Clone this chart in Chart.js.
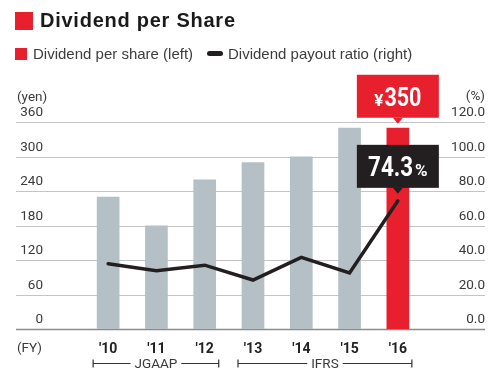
<!DOCTYPE html>
<html>
<head>
<meta charset="utf-8">
<script src="https://cdn.jsdelivr.net/npm/chart.js@4"></script>
<style>
  body { margin: 0; background: #fff; }
  #wrap { position: relative; width: 500px; height: 375px; overflow: hidden; font-family: "Liberation Sans", Arial, sans-serif; }
  #chart { position: absolute; left: 0; top: 0; }
  .sq { position: absolute; background: #e8202e; }
  .title { position: absolute; left: 40px; top: 9px; font-size: 20px; font-weight: bold; color: #1a1a1a; letter-spacing: 0.75px; line-height: 22px; }
  .leg { position: absolute; top: 45px; font-size: 15px; color: #3c3c3c; line-height: 17px; }
  .legline { position: absolute; left: 207px; top: 51px; width: 16px; height: 5px; border-radius: 3px; background: #231f20; }
</style>
</head>
<body>
<div id="wrap">
  <canvas id="chart" width="500" height="375"></canvas>
  <div class="sq" style="left:15px;top:12px;width:18px;height:18px;"></div>
  <div class="title">Dividend per Share</div>
  <div class="sq" style="left:15px;top:48px;width:12px;height:12px;"></div>
  <div class="leg" style="left:33px;">Dividend per share (left)</div>
  <div class="legline"></div>
  <div class="leg" style="left:228px;">Dividend payout ratio (right)</div>
</div>
<script>
const years = ["'10", "'11", "'12", "'13", "'14", "'15", "'16"];
const dividendPerShare = [230, 180, 260, 290, 300, 350, 350];
const payoutRatio = [37.8, 33.8, 37.0, 28.4, 41.5, 32.5, 74.3];
const yenTicks = [0, 60, 120, 180, 240, 300, 360];
const ratioTicks = ["0.0", "20.0", "40.0", "60.0", "80.0", "100.0", "120.0"];
const standards = ["JGAAP", "IFRS"];
const standardFirst = [0, 3];
const standardLast = [2, 6];

const GRAY = "#b5c0c6";
const RED = "#e8202e";
const BLACK = "#231f20";
const numFont = "Roboto, 'Liberation Sans', sans-serif";

const barColors = dividendPerShare.map((v, i) => (i === years.length - 1 ? RED : GRAY));

const axisPlugin = {
  id: "axisPlugin",
  beforeDatasetsDraw(chart) {
    const ctx = chart.ctx;
    const y = chart.scales.y;
    ctx.save();
    yenTicks.forEach((v) => {
      const py = Math.round(y.getPixelForValue(v)) + 0.5;
      ctx.beginPath();
      ctx.moveTo(16, py);
      ctx.lineTo(485, py);
      ctx.strokeStyle = v === 0 ? "#8c8c8c" : "#c4c4c4";
      ctx.lineWidth = v === 0 ? 1.5 : 1;
      ctx.stroke();
    });
    ctx.restore();
  },
  afterDatasetsDraw(chart) {
    const ctx = chart.ctx;
    const x = chart.scales.x;
    const y = chart.scales.y;
    const y1 = chart.scales.y1;
    ctx.save();
    ctx.fillStyle = "#3a3a3a";
    ctx.font = "13.5px " + numFont;
    ctx.textBaseline = "middle";

    // left ticks
    ctx.textAlign = "right";
    yenTicks.forEach((v) => {
      ctx.fillText(String(v), 43, y.getPixelForValue(v) - 9);
    });
    // right ticks
    ratioTicks.forEach((t) => {
      ctx.fillText(t, 485, y1.getPixelForValue(parseFloat(t)) - 9);
    });
    ctx.fillText("(%)", 485, 97);
    ctx.textAlign = "left";
    ctx.fillText("(yen)", 17, 98);
    ctx.fillText("(FY)", 17, 349);

    // category labels
    ctx.textAlign = "center";
    ctx.font = "bold 14px " + numFont;
    ctx.fillStyle = "#222";
    years.forEach((yr, i) => {
      ctx.fillText(yr, x.getPixelForValue(i), 349);
    });

    // accounting standard brackets
    ctx.font = "13.5px " + numFont;
    ctx.fillStyle = "#3a3a3a";
    ctx.strokeStyle = "#333";
    ctx.lineWidth = 1.2;
    const by = 363.5;
    standards.forEach((name, k) => {
      const x0 = x.getPixelForValue(standardFirst[k]) - 15;
      const x1 = x.getPixelForValue(standardLast[k]) + 14;
      const mid = (x0 + x1) / 2;
      const half = ctx.measureText(name).width / 2 + 4;
      ctx.beginPath();
      ctx.moveTo(x0, by); ctx.lineTo(mid - half, by);
      ctx.moveTo(mid + half, by); ctx.lineTo(x1, by);
      ctx.moveTo(x0, by - 4); ctx.lineTo(x0, by + 4);
      ctx.moveTo(x1, by - 4); ctx.lineTo(x1, by + 4);
      ctx.stroke();
      ctx.fillText(name, mid, by + 1);
    });
    ctx.restore();
  },
  afterDraw(chart) {
    const ctx = chart.ctx;
    const x = chart.scales.x;
    const y = chart.scales.y;
    const y1 = chart.scales.y1;
    const last = years.length - 1;
    const cx = x.getPixelForValue(last);

    function callout(color, bottom, tip) {
      const top = bottom - 43;
      ctx.fillStyle = color;
      ctx.fillRect(cx - 41, top, 82, 43);
      ctx.beginPath();
      ctx.moveTo(cx - 5, bottom);
      ctx.lineTo(cx + 5, bottom);
      ctx.lineTo(cx, tip);
      ctx.closePath();
      ctx.fill();
      return top;
    }

    ctx.save();
    // dividend callout
    const barTop = y.getPixelForValue(dividendPerShare[last]);
    const rTop = callout(RED, barTop - 10, barTop - 4);
    ctx.fillStyle = "#fff";
    ctx.textBaseline = "alphabetic";
    ctx.textAlign = "left";
    let bigF = "bold 25px " + numFont;
    const smallF = "bold 17px " + numFont;
    let big = String(dividendPerShare[last]);
    ctx.font = bigF; const wb = ctx.measureText(big).width * 0.86;
    ctx.font = smallF; const ws = ctx.measureText("¥").width;
    let sx = cx - (wb + ws + 1) / 2;
    ctx.fillText("¥", sx, rTop + 31);
    ctx.save();
    ctx.translate(sx + ws + 1, rTop + 31);
    ctx.scale(0.86, 1);
    ctx.font = bigF;
    ctx.fillText(big, 0, 0);
    ctx.restore();

    // payout callout
    const pt = y1.getPixelForValue(payoutRatio[last]);
    const bTop = callout(BLACK, pt - 13, pt - 7);
    ctx.fillStyle = "#fff";
    bigF = "bold 28px " + numFont;
    big = payoutRatio[last].toFixed(1);
    ctx.font = bigF; const wb2 = ctx.measureText(big).width * 0.8;
    ctx.font = smallF; const ws2 = ctx.measureText("%").width;
    sx = cx - (wb2 + ws2 + 2) / 2;
    ctx.save();
    ctx.translate(sx, bTop + 31);
    ctx.scale(0.8, 1);
    ctx.font = bigF;
    ctx.fillText(big, 0, 0);
    ctx.restore();
    ctx.font = smallF;
    ctx.fillText("%", sx + wb2 + 2, bTop + 31);
    ctx.restore();
  }
};

new Chart(document.getElementById("chart"), {
  data: {
    labels: years,
    datasets: [
      {
        type: "line",
        label: "Dividend payout ratio (right)",
        data: payoutRatio,
        yAxisID: "y1",
        borderColor: BLACK,
        borderWidth: 3.5,
        pointRadius: 0,
        tension: 0,
        borderCapStyle: "round",
        order: 0
      },
      {
        type: "bar",
        label: "Dividend per share (left)",
        data: dividendPerShare,
        yAxisID: "y",
        backgroundColor: barColors,
        barPercentage: 0.47,
        categoryPercentage: 1,
        order: 1
      }
    ]
  },
  options: {
    responsive: false,
    animation: false,
    devicePixelRatio: 1,
    layout: { padding: { left: 84, right: 78, top: 122, bottom: 46 } },
    plugins: { legend: { display: false }, tooltip: { enabled: false } },
    scales: {
      x: { type: "category", offset: true, display: false },
      y: { type: "linear", position: "left", min: 0, max: 360, display: false },
      y1: { type: "linear", position: "right", min: 0, max: 120, display: false }
    }
  },
  plugins: [axisPlugin]
});
</script>
</body>
</html>
